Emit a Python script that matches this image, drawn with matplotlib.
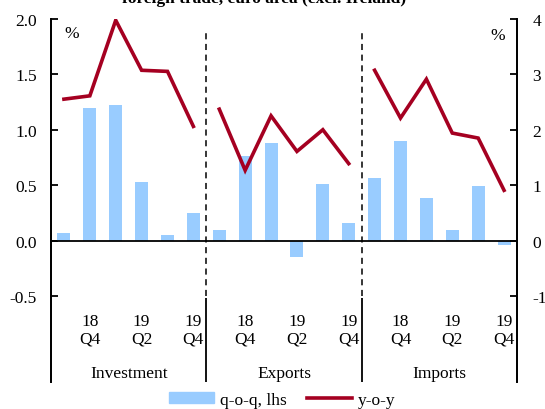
import numpy as np
import matplotlib; matplotlib.use("Agg")
import matplotlib.pyplot as plt
from matplotlib.patches import Patch
from matplotlib.lines import Line2D

plt.rcParams.update({'font.family':['Liberation Serif','DejaVu Serif'],'font.size':12.5,
                     'axes.unicode_minus':False})

groups=['Investment','Exports','Imports']
qoq_inv=[0.07,1.20,1.22,0.53,0.05,0.25]
qoq_exp=[0.10,0.76,0.885,-0.145,0.51,0.16]
qoq_imp=[0.57,0.90,0.39,0.10,0.49,-0.04]
yoy_inv=[2.55,2.61,3.97,3.07,3.05,2.06]
yoy_exp=[2.37,1.27,2.25,1.61,2.00,1.39]
yoy_imp=[3.07,2.21,2.91,1.94,1.85,0.91]
tick_lab=['18\nQ4','19\nQ2','19\nQ4']
tick_idx=[1,3,5]
title='foreign trade, euro area (excl. Ireland)'

BLUE='#99CCFF'; RED='#A50021'
fig=plt.figure(figsize=(5.45,4.1),dpi=100)
ax=fig.add_axes([51/545,27/410,466/545,(383-19.6)/410])
ax2=ax.twinx()
n=6
for g,(q,y) in enumerate(zip([qoq_inv,qoq_exp,qoq_imp],[yoy_inv,yoy_exp,yoy_imp])):
    x=np.arange(n)+g*n
    ax.bar(x,q,width=0.5,color=BLUE,edgecolor='none',zorder=2)
    ax2.plot(x,y,color=RED,lw=2.6,solid_joinstyle='miter',zorder=3)
    for i,t in zip(tick_idx,tick_lab):
        ax.text(x[i],-0.8,t,ha='center',va='center',linespacing=1.15)
    ax.text(x[0]+2.5,-1.19,groups[g],ha='center',va='center')
    if g>0:
        ax.vlines(x[0]-0.5,-0.5,1.87,colors='k',linestyles=(0,(4,3)),lw=1.1)
    if g<2:
        ax.vlines(x[-1]+0.5,-0.51,-1.27,colors='k',lw=1.3)
ax.axhline(0,color='k',lw=1.3,zorder=4)
ax.set_xlim(-0.5,3*n-0.5)
ax.set_ylim(-1.27,2.0); ax2.set_ylim(-2.54,4.0)
ax.set_yticks([-0.5,0,0.5,1.0,1.5,2.0]); ax.set_yticklabels(['-0.5','0.0','0.5','1.0','1.5','2.0'])
ax2.set_yticks([-1,0,1,2,3,4])
ax.set_xticks([])
for a in (ax,ax2):
    for s in ('top','bottom'): a.spines[s].set_visible(False)
    a.spines['left'].set_linewidth(1.3); a.spines['right'].set_linewidth(1.3)
ax.tick_params(axis='y',direction='in',length=5,width=1.3,pad=10)
ax2.tick_params(axis='y',direction='in',length=5,width=1.3,pad=11)
ax.text(0.045,0.96,'%',transform=ax.transAxes,ha='center',va='center')
ax2.text(0.958,0.955,'%',transform=ax2.transAxes,ha='center',va='center')
fig.text(264/545,1-3/410,title,ha='center',va='baseline',fontweight='bold')
h=[Patch(color=BLUE),Line2D([],[],color=RED,lw=2.6)]
fig.legend(h,['q-o-q, lhs','y-o-y'],loc='center',bbox_to_anchor=(0.518,0.022),ncol=2,frameon=False,
           handlelength=2.6,handleheight=0.6,columnspacing=1.2,handletextpad=0.3)
fig.savefig('out.png',dpi=100)
